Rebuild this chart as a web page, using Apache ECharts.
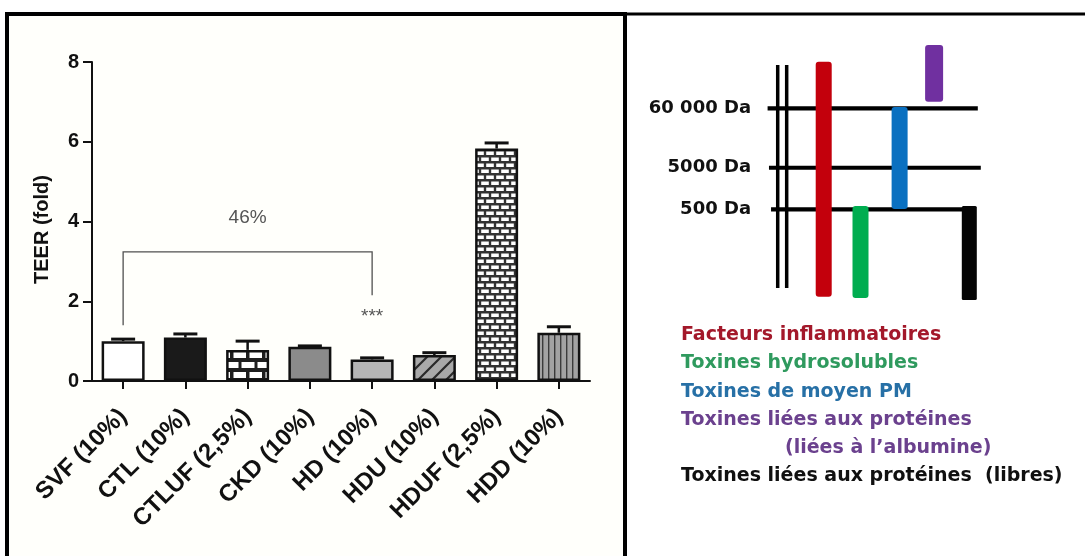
<!DOCTYPE html>
<html><head><meta charset="utf-8">
<script src="https://cdn.jsdelivr.net/npm/echarts@6/dist/echarts.min.js"></script>
<style>html,body{margin:0;padding:0;background:#fff}#c{width:1085px;height:556px}</style>
</head><body><div id="c"></div>
<script>
// ---------- bar chart data ----------
const categories = ['SVF (10%)','CTL (10%)','CTLUF (2,5%)','CKD (10%)','HD (10%)','HDU (10%)','HDUF (2,5%)','HDD (10%)'];
const teerMean   = [1.00, 1.09, 0.78, 0.86, 0.54, 0.65, 5.83, 1.21];
const teerErrTop = [1.05, 1.18, 1.00, 0.88, 0.58, 0.71, 5.97, 1.36];
const yTicks = [0, 2, 4, 6, 8];
const bracketFrom = 'SVF (10%)';
const bracketTo = 'HD (10%)';
const bracketLevels = [1.4, 3.24, 2.15];   // left foot, bridge, right foot
const bracketText = '46%';
const bracketTextAt = [2.1, 4.1];
const signifText = '***';
const signifAt = [4, 1.62];

// ---------- diagram data ----------
const weightThresholds = ['60 000 Da', '5000 Da', '500 Da'];
const thresholdLevel = [74.2, 51.8, 36.1];
const thresholdStart = [0.33, 0.39, 0.48];
const thresholdEnd   = [9.47, 9.60, 9.26];
const railColumns = [0.77, 1.16];
const railRange = [6.4, 90.6];
const toxinGroups = ['Facteurs inflammatoires', 'Toxines hydrosolubles', 'Toxines de moyen PM',
  'Toxines liées aux protéines (liées à l\u2019albumine)', 'Toxines liées aux protéines (libres)'];
const toxinColumn = [2.77, 4.37, 6.07, 7.57, 9.10];
const toxinLow  = [3.1, 2.6, 36.2, 76.7, 1.9];
const toxinHigh = [91.8, 37.4, 74.7, 98.1, 37.4];
const legendLines = ['Facteurs inflammatoires', 'Toxines hydrosolubles', 'Toxines de moyen PM',
  'Toxines liées aux protéines', '(liées à l\u2019albumine)', 'Toxines liées aux protéines  (libres)'];

// ---------- styles ----------
const FONT = '"Liberation Sans", Arial, sans-serif';
const toxinColors = ['#c3000c', '#00ad50', '#0a70c0', '#7030a0', '#050505'];
const toxinWidths = [16, 16, 16, 18, 15];
const legendColors = ['#a3182a', '#2f9a5e', '#2770a6', '#6b418e', '#6b418e', '#101010'];

function mk(w, h, draw) { const c = document.createElement('canvas'); c.width = w; c.height = h; draw(c.getContext('2d')); return c; }
const brickBig = mk(16, 20, g => {
  g.fillStyle = '#1e1e1e'; g.fillRect(0, 0, 16, 20);
  g.fillStyle = '#ffffff';
  g.fillRect(1.5, 2, 13, 6);
  g.fillRect(0, 12, 6, 6); g.fillRect(9.5, 12, 6.5, 6);
});
const brickSmall = mk(10, 12, g => {
  g.fillStyle = '#333333'; g.fillRect(0, 0, 10, 12);
  g.fillStyle = '#ffffff';
  g.fillRect(1.2, 1.5, 7.6, 3.5);
  g.fillRect(0, 7.5, 3.8, 3.5); g.fillRect(6.2, 7.5, 3.8, 3.5);
});
const diagHatch = mk(14, 14, g => {
  g.fillStyle = '#a9a9a9'; g.fillRect(0, 0, 14, 14);
  g.strokeStyle = '#2a2a2a'; g.lineWidth = 2.2;
  g.beginPath(); g.moveTo(-2, 16); g.lineTo(16, -2);
  g.moveTo(-4, 4); g.lineTo(4, -4); g.moveTo(10, 18); g.lineTo(18, 10); g.stroke();
});
const vertHatch = mk(6, 4, g => {
  g.fillStyle = '#a2a2a2'; g.fillRect(0, 0, 6, 4);
  g.fillStyle = '#3a3a3a'; g.fillRect(2, 0, 1.4, 4);
});
const pat = c => ({ image: c, repeat: 'repeat' });
const barFills = ['#ffffff', '#1a1a1a', pat(brickBig), '#8b8b8b', '#b5b5b5', pat(diagHatch), pat(brickSmall), pat(vertHatch)];

const chart = echarts.init(document.getElementById('c'), null, { renderer: 'canvas' });

const legendGraphics = legendLines.map((t, i) => ({
  type: 'text', x: (i === 4 ? 785 : 681), y: 335 + i * 28.3, z: 10,
  style: { text: t, fill: legendColors[i], font: 'bold 19px "DejaVu Sans", sans-serif', align: 'left', verticalAlign: 'middle', textAlign: 'left', textVerticalAlign: 'middle' }
}));

const option = {
  backgroundColor: '#ffffff',
  animation: false,
  textStyle: { fontFamily: FONT },
  graphic: [
    { type: 'rect', shape: { x: 9, y: 16, width: 614, height: 540 }, style: { fill: '#fffffb' }, z: -10 },
    { type: 'rect', shape: { x: 5, y: 12, width: 621, height: 4 }, style: { fill: '#000' }, z: 5 },
    { type: 'rect', shape: { x: 626, y: 12.5, width: 459, height: 3 }, style: { fill: '#000' }, z: 5 },
    { type: 'rect', shape: { x: 5, y: 12, width: 4, height: 544 }, style: { fill: '#000' }, z: 5 },
    { type: 'rect', shape: { x: 623, y: 12, width: 4, height: 544 }, style: { fill: '#000' }, z: 5 },
    ...legendGraphics
  ],
  grid: [
    { left: 92, top: 62, width: 498, height: 319, outerBoundsMode: 'none', containLabel: false },
    { left: 760, top: 40, width: 230, height: 265, outerBoundsMode: 'none', containLabel: false }
  ],
  xAxis: [
    {
      type: 'category', gridIndex: 0, data: categories, boundaryGap: true,
      axisLine: { show: true, lineStyle: { color: '#111', width: 2 } },
      axisTick: { show: true, alignWithLabel: true, length: 8, lineStyle: { color: '#111', width: 2 } },
      axisLabel: { interval: 0, rotate: 45, margin: 32, color: '#111', fontWeight: 'bold', fontSize: 24, fontFamily: FONT, hideOverlap: false },
      splitLine: { show: false }
    },
    { type: 'value', gridIndex: 1, min: 0, max: 10, show: false }
  ],
  yAxis: [
    {
      type: 'value', gridIndex: 0, min: yTicks[0], max: yTicks[yTicks.length - 1], interval: yTicks[1] - yTicks[0],
      name: 'TEER (fold)', nameLocation: 'middle', nameGap: 40, nameRotate: 90,
      nameTextStyle: { fontWeight: 'bold', fontSize: 20, color: '#111', fontFamily: FONT, padding: [0, 16, 0, 0] },
      axisLine: { show: true, lineStyle: { color: '#111', width: 2 } },
      axisTick: { show: true, length: 9, lineStyle: { color: '#111', width: 2 } },
      axisLabel: { color: '#111', fontWeight: 'bold', fontSize: 20, margin: 13, fontFamily: FONT },
      splitLine: { show: false }
    },
    { type: 'value', gridIndex: 1, min: 0, max: 100, show: false }
  ],
  series: [
    {
      type: 'bar', xAxisIndex: 0, yAxisIndex: 0, barWidth: 43, z: 3,
      data: teerMean.map((v, i) => ({ value: v, itemStyle: { color: barFills[i], borderColor: '#111', borderWidth: 2.5 } }))
    },
    {
      type: 'custom', xAxisIndex: 0, yAxisIndex: 0, z: 2,
      data: teerMean.map((v, i) => [i, v, teerErrTop[i]]),
      renderItem: (params, api) => {
        const b = api.coord([api.value(0), api.value(1)]);
        const t = api.coord([api.value(0), api.value(2)]);
        const st = { stroke: '#111', lineWidth: 2.5 };
        return { type: 'group', children: [
          { type: 'line', shape: { x1: b[0], y1: b[1], x2: t[0], y2: t[1] }, style: st },
          { type: 'line', shape: { x1: t[0] - 12, y1: t[1], x2: t[0] + 12, y2: t[1] }, style: { stroke: '#111', lineWidth: 3 } }
        ] };
      }
    },
    {
      type: 'custom', xAxisIndex: 0, yAxisIndex: 0, z: 4,
      data: [[categories.indexOf(bracketFrom), categories.indexOf(bracketTo), ...bracketLevels]],
      renderItem: (params, api) => {
        const a = api.coord([api.value(0), api.value(2)]);
        const b = api.coord([api.value(0), api.value(3)]);
        const c = api.coord([api.value(1), api.value(3)]);
        const d = api.coord([api.value(1), api.value(4)]);
        return { type: 'polyline', shape: { points: [a, b, c, d] }, style: { stroke: '#505050', lineWidth: 1.3, fill: null } };
      }
    },
    {
      type: 'custom', xAxisIndex: 0, yAxisIndex: 0, z: 4,
      data: [[bracketTextAt[0], bracketTextAt[1], bracketText], [signifAt[0], signifAt[1], signifText]],
      renderItem: (params, api) => {
        const p = api.coord([api.value(0), api.value(1)]);
        const big = params.dataIndex === 0;
        return { type: 'text', x: p[0], y: p[1], style: { text: big ? bracketText : signifText, fill: big ? '#555' : '#555', font: (big ? '19px ' : '19px ') + FONT, align: 'center', verticalAlign: 'middle', textAlign: 'center', textVerticalAlign: 'middle' } };
      }
    },
    // diagram: rails
    {
      type: 'custom', xAxisIndex: 1, yAxisIndex: 1, z: 2,
      data: railColumns.map(c => [c, railRange[0], railRange[1]]),
      renderItem: (params, api) => {
        const a = api.coord([api.value(0), api.value(1)]);
        const b = api.coord([api.value(0), api.value(2)]);
        return { type: 'line', shape: { x1: a[0], y1: a[1], x2: b[0], y2: b[1] }, style: { stroke: '#000', lineWidth: 3.5 } };
      }
    },
    // diagram: thresholds
    {
      type: 'custom', xAxisIndex: 1, yAxisIndex: 1, z: 2,
      data: weightThresholds.map((n, i) => [thresholdStart[i], thresholdEnd[i], thresholdLevel[i], n]),
      renderItem: (params, api) => {
        const a = api.coord([api.value(0), api.value(2)]);
        const b = api.coord([api.value(1), api.value(2)]);
        const lab = api.coord([-0.39, api.value(2)]);
        return { type: 'group', children: [
          { type: 'line', shape: { x1: a[0], y1: a[1], x2: b[0], y2: b[1] }, style: { stroke: '#000', lineWidth: 4.2 } },
          { type: 'text', x: lab[0], y: lab[1], style: { text: weightThresholds[params.dataIndex], fill: '#111', font: 'bold 18px "DejaVu Sans", sans-serif', align: 'right', verticalAlign: 'middle', textAlign: 'right', textVerticalAlign: 'middle' } }
        ] };
      }
    },
    // diagram: toxin ranges
    {
      type: 'custom', xAxisIndex: 1, yAxisIndex: 1, z: 3,
      data: toxinGroups.map((n, i) => [toxinColumn[i], toxinLow[i], toxinHigh[i]]),
      renderItem: (params, api) => {
        const i = params.dataIndex;
        const lo = api.coord([api.value(0), api.value(1)]);
        const hi = api.coord([api.value(0), api.value(2)]);
        const w = toxinWidths[i];
        return { type: 'rect', shape: { x: lo[0] - w / 2, y: hi[1], width: w, height: lo[1] - hi[1], r: i === 4 ? 1.5 : 3 }, style: { fill: toxinColors[i] } };
      }
    }
  ]
};
chart.setOption(option);
</script></body></html>
